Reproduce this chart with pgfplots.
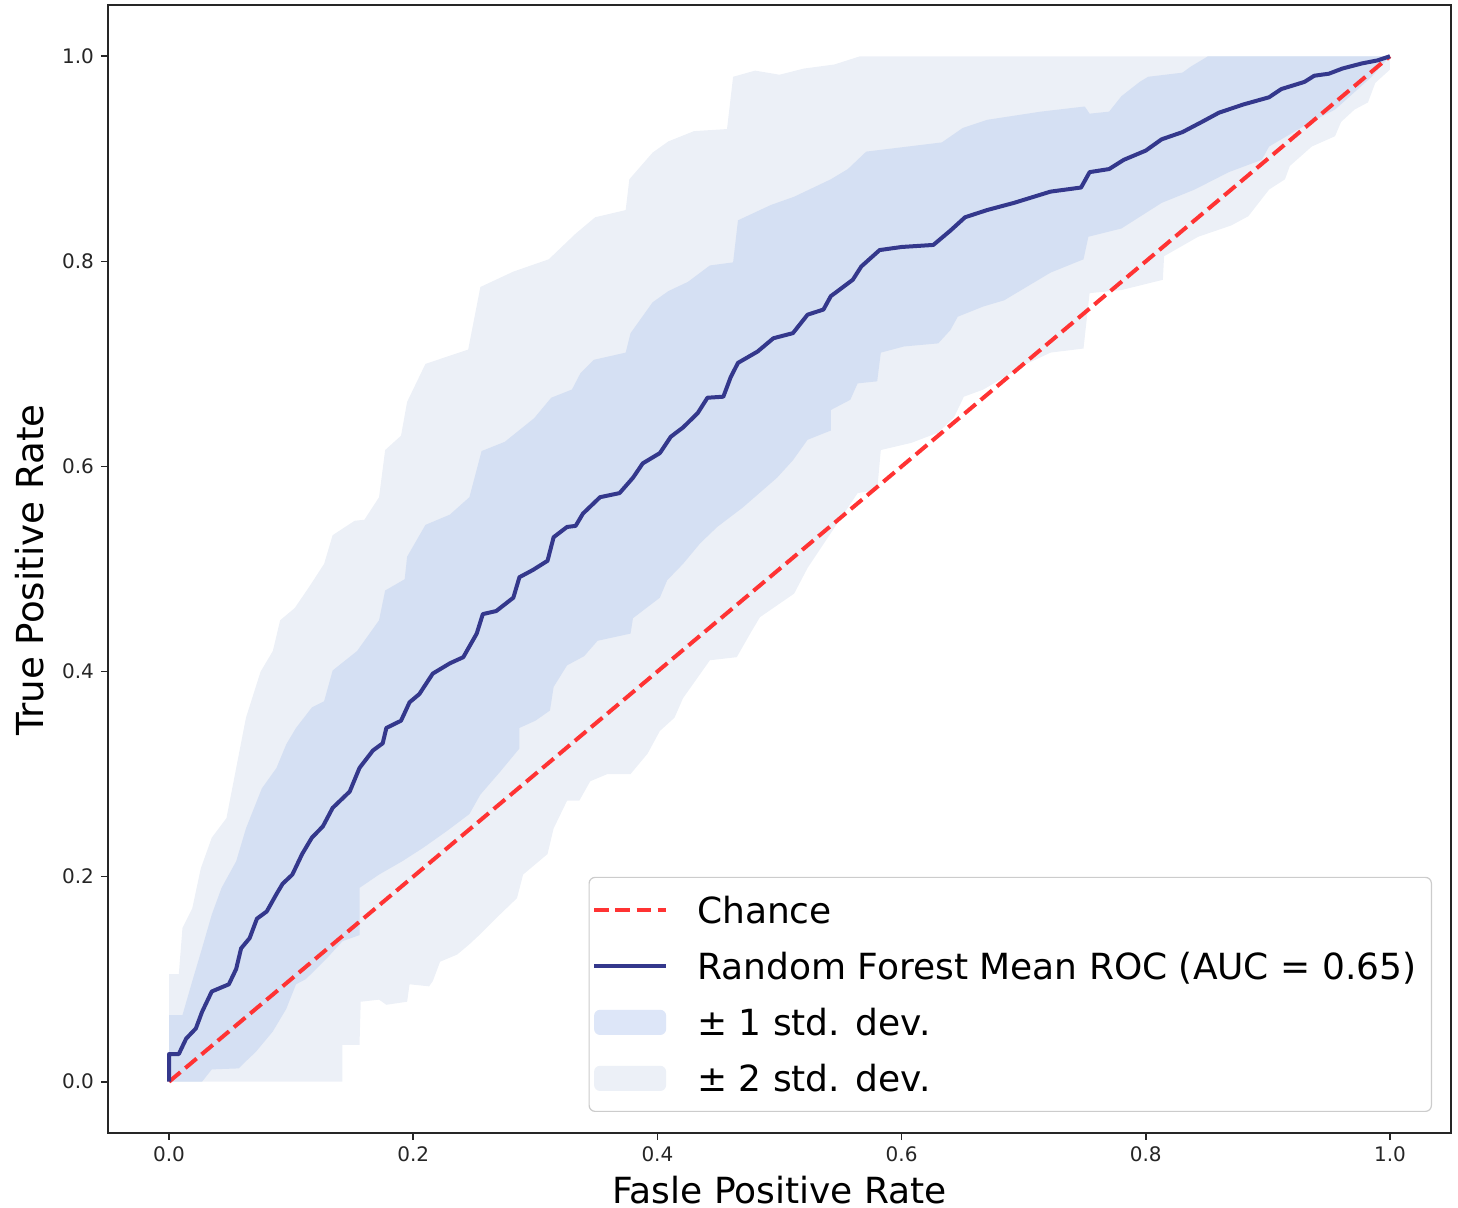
\documentclass[border=0pt]{standalone}
\usepackage{pgfplots}
\pgfplotsset{compat=1.18}
\usepackage{fontspec}
\setmainfont{DejaVu Sans}
\definecolor{outerc}{RGB}{236,240,247}
\definecolor{innerc}{RGB}{213,224,243}
\definecolor{innerleg}{RGB}{221,230,248}
\definecolor{meanc}{RGB}{52,56,140}
\definecolor{chancec}{RGB}{255,51,51}
\definecolor{legframe}{RGB}{204,204,204}
\pgfplotsset{
  myline legend/.style={legend image code/.code={\draw[##1] (5pt,0pt) -- (41pt,0pt);}},
  mypatch legend/.style={legend image code/.code={\fill[##1] (5pt,-6.3pt) rectangle (41pt,6.3pt);}},
}
\begin{document}
\begin{tikzpicture}
\begin{axis}[
  scale only axis,
  width=671.5pt, height=564pt,
  xmin=-0.05, xmax=1.05, ymin=-0.05, ymax=1.05,
  xtick={0,0.2,0.4,0.6,0.8,1.0},
  xticklabels={0.0,0.2,0.4,0.6,0.8,1.0},
  ytick={0,0.2,0.4,0.6,0.8,1.0},
  yticklabels={0.0,0.2,0.4,0.6,0.8,1.0},
  /pgf/number format/assume math mode=true,
  tick align=outside,
  xtick pos=bottom, ytick pos=left,
  major tick length=3.5pt,
  tick style={black!85, line width=0.8pt},
  axis line style={black!85, line width=0.8pt},
  ticklabel style={font=\fontsize{10}{12}\selectfont, text=black!85},
  xlabel={Fasle Positive Rate},
  ylabel={True Positive Rate},
  xlabel style={font=\fontsize{18}{21.6}\selectfont, at={(axis description cs:0.5,-0.0505)}, anchor=center, inner sep=0pt},
  ylabel style={font=\fontsize{18.6}{22}\selectfont, at={(axis description cs:-0.0581,0.499)}, anchor=center, inner sep=0pt},
  legend cell align=left,
  legend style={
    at={(1,0)}, anchor=south east, xshift=-9.5pt, yshift=10.5pt,
    draw=legframe, line width=0.6pt, rounded corners=3pt,
    fill=white,
    font=\fontsize{18}{21.6}\selectfont,
    inner xsep=1.5pt, inner ysep=2.5pt,
    row sep=0pt,
    nodes={text height=15pt, text depth=1.9pt, inner ysep=5.55pt, inner xsep=6pt},
    /tikz/every odd column/.append style={column sep=8.5pt},
  },
  myline legend,
]
% +/- 2 std. dev. band
\addplot[forget plot, fill=outerc, draw=none] coordinates {
(0,0) (0,0.105) (0.008,0.105) (0.011,0.150) (0.019,0.169) (0.026,0.208) (0.035,0.238) (0.047,0.257) (0.055,0.306) (0.063,0.355) (0.075,0.400) (0.085,0.420) (0.091,0.450) (0.103,0.462) (0.115,0.483) (0.127,0.505) (0.134,0.533) (0.152,0.547) (0.160,0.548) (0.172,0.570) (0.177,0.616) (0.190,0.630) (0.195,0.663) (0.210,0.700) (0.245,0.714) (0.255,0.775) (0.282,0.790) (0.311,0.802) (0.333,0.827) (0.349,0.843) (0.374,0.850) (0.377,0.880) (0.396,0.906) (0.409,0.917) (0.430,0.927) (0.457,0.929) (0.462,0.980) (0.480,0.986) (0.500,0.982) (0.520,0.988) (0.545,0.992) (0.566,1.0) (1.0,1.0)
(1.0,0.987) (0.988,0.974) (0.982,0.955) (0.971,0.948) (0.960,0.936) (0.955,0.922) (0.936,0.912) (0.918,0.893) (0.914,0.880) (0.901,0.870) (0.884,0.844) (0.870,0.835) (0.843,0.824) (0.815,0.805) (0.814,0.782) (0.780,0.772) (0.754,0.769) (0.749,0.715) (0.722,0.711) (0.704,0.701) (0.684,0.687) (0.667,0.675) (0.651,0.668) (0.643,0.648) (0.630,0.633) (0.608,0.623) (0.583,0.616) (0.580,0.577) (0.564,0.574) (0.542,0.535) (0.523,0.501) (0.512,0.476) (0.484,0.453) (0.476,0.437) (0.465,0.414) (0.443,0.411) (0.421,0.374) (0.414,0.355) (0.402,0.342) (0.392,0.320) (0.378,0.300) (0.359,0.300) (0.345,0.293) (0.336,0.274) (0.326,0.274) (0.315,0.247) (0.310,0.222) (0.290,0.202) (0.285,0.179) (0.271,0.163) (0.255,0.144) (0.246,0.134) (0.236,0.124) (0.222,0.117) (0.216,0.098) (0.213,0.093) (0.197,0.095) (0.195,0.078) (0.178,0.075) (0.172,0.080) (0.157,0.078) (0.156,0.036) (0.142,0.036) (0.142,0) (0,0)
} -- cycle;
% +/- 1 std. dev. band
\addplot[forget plot, fill=innerc, draw=none] coordinates {
(0,0) (0,0.065) (0.011,0.065) (0.019,0.098) (0.027,0.130) (0.035,0.163) (0.043,0.189) (0.055,0.215) (0.063,0.247) (0.076,0.286) (0.088,0.306) (0.096,0.329) (0.104,0.345) (0.117,0.365) (0.127,0.371) (0.134,0.401) (0.154,0.420) (0.172,0.450) (0.177,0.479) (0.193,0.490) (0.195,0.512) (0.210,0.543) (0.230,0.553) (0.246,0.570) (0.256,0.615) (0.275,0.624) (0.299,0.647) (0.313,0.667) (0.330,0.675) (0.337,0.691) (0.348,0.704) (0.374,0.711) (0.378,0.730) (0.396,0.760) (0.409,0.771) (0.425,0.780) (0.443,0.796) (0.462,0.799) (0.466,0.840) (0.493,0.855) (0.512,0.863) (0.542,0.880) (0.556,0.890) (0.571,0.907) (0.633,0.916) (0.650,0.930) (0.670,0.938) (0.714,0.946) (0.750,0.951) (0.754,0.944) (0.770,0.946) (0.780,0.961) (0.795,0.975) (0.802,0.980) (0.830,0.984) (0.837,0.990) (0.851,1.0) (1.0,1.0)
(0.985,0.980) (0.971,0.965) (0.955,0.948) (0.934,0.935) (0.901,0.912) (0.895,0.899) (0.868,0.887) (0.840,0.870) (0.813,0.857) (0.780,0.832) (0.753,0.824) (0.749,0.802) (0.722,0.789) (0.684,0.762) (0.667,0.756) (0.646,0.746) (0.640,0.733) (0.630,0.720) (0.602,0.717) (0.583,0.711) (0.580,0.683) (0.564,0.681) (0.558,0.665) (0.542,0.655) (0.542,0.635) (0.523,0.626) (0.511,0.606) (0.498,0.589) (0.470,0.560) (0.449,0.541) (0.435,0.525) (0.421,0.505) (0.408,0.489) (0.402,0.472) (0.380,0.452) (0.378,0.437) (0.351,0.430) (0.340,0.415) (0.326,0.406) (0.315,0.385) (0.312,0.362) (0.300,0.352) (0.287,0.345) (0.287,0.325) (0.271,0.302) (0.255,0.280) (0.246,0.261) (0.227,0.244) (0.208,0.228) (0.191,0.215) (0.172,0.202) (0.156,0.189) (0.156,0.143) (0.142,0.137) (0.129,0.120) (0.112,0.100) (0.104,0.095) (0.096,0.071) (0.085,0.049) (0.071,0.029) (0.063,0.020) (0.057,0.013) (0.035,0.012) (0.027,0) (0,0)
} -- cycle;
% Chance
\addplot[chancec, line width=2pt, dash pattern=on 7.4pt off 3.2pt] coordinates {(0,0) (1,1)};
\addlegendentry{Chance}
% Mean ROC
\addplot[meanc, line width=2pt, line join=round] coordinates {
(0,0) (0,0.027) (0.008,0.027) (0.014,0.042) (0.022,0.052) (0.027,0.068) (0.035,0.088) (0.049,0.095) (0.055,0.110) (0.059,0.130) (0.066,0.140) (0.072,0.159) (0.080,0.166) (0.088,0.183) (0.093,0.193) (0.101,0.202) (0.109,0.222) (0.117,0.238) (0.126,0.249) (0.134,0.267) (0.148,0.283) (0.156,0.306) (0.167,0.323) (0.175,0.330) (0.178,0.345) (0.190,0.352) (0.197,0.370) (0.205,0.378) (0.216,0.398) (0.230,0.408) (0.241,0.414) (0.252,0.437) (0.257,0.456) (0.268,0.459) (0.282,0.472) (0.287,0.492) (0.298,0.499) (0.310,0.508) (0.315,0.531) (0.326,0.541) (0.333,0.542) (0.339,0.554) (0.353,0.570) (0.369,0.574) (0.380,0.589) (0.388,0.603) (0.402,0.613) (0.411,0.629) (0.421,0.638) (0.433,0.652) (0.441,0.667) (0.454,0.668) (0.460,0.687) (0.466,0.701) (0.482,0.712) (0.495,0.725) (0.511,0.730) (0.523,0.748) (0.536,0.753) (0.542,0.766) (0.560,0.782) (0.567,0.795) (0.582,0.811) (0.600,0.814) (0.626,0.816) (0.640,0.830) (0.652,0.843) (0.670,0.850) (0.692,0.857) (0.722,0.868) (0.747,0.872) (0.754,0.887) (0.770,0.890) (0.782,0.899) (0.800,0.908) (0.813,0.919) (0.830,0.926) (0.846,0.936) (0.860,0.945) (0.880,0.953) (0.901,0.960) (0.911,0.968) (0.930,0.975) (0.938,0.981) (0.950,0.983) (0.961,0.988) (0.977,0.993) (0.990,0.996) (1.0,1.0)
};
\addlegendentry{Random Forest Mean ROC (AUC = 0.65)}
\addlegendimage{fill=innerleg, draw=none, mypatch legend}
\addlegendentry{± 1 std. dev.}
\addlegendimage{fill=outerc, draw=none, mypatch legend}
\addlegendentry{± 2 std. dev.}
\end{axis}
\pgfresetboundingbox
\path (current axis.south west) ++(-54pt,-37.5pt) rectangle ([xshift=3.5pt,yshift=2.5pt]current axis.north east);
\end{tikzpicture}
\end{document}
